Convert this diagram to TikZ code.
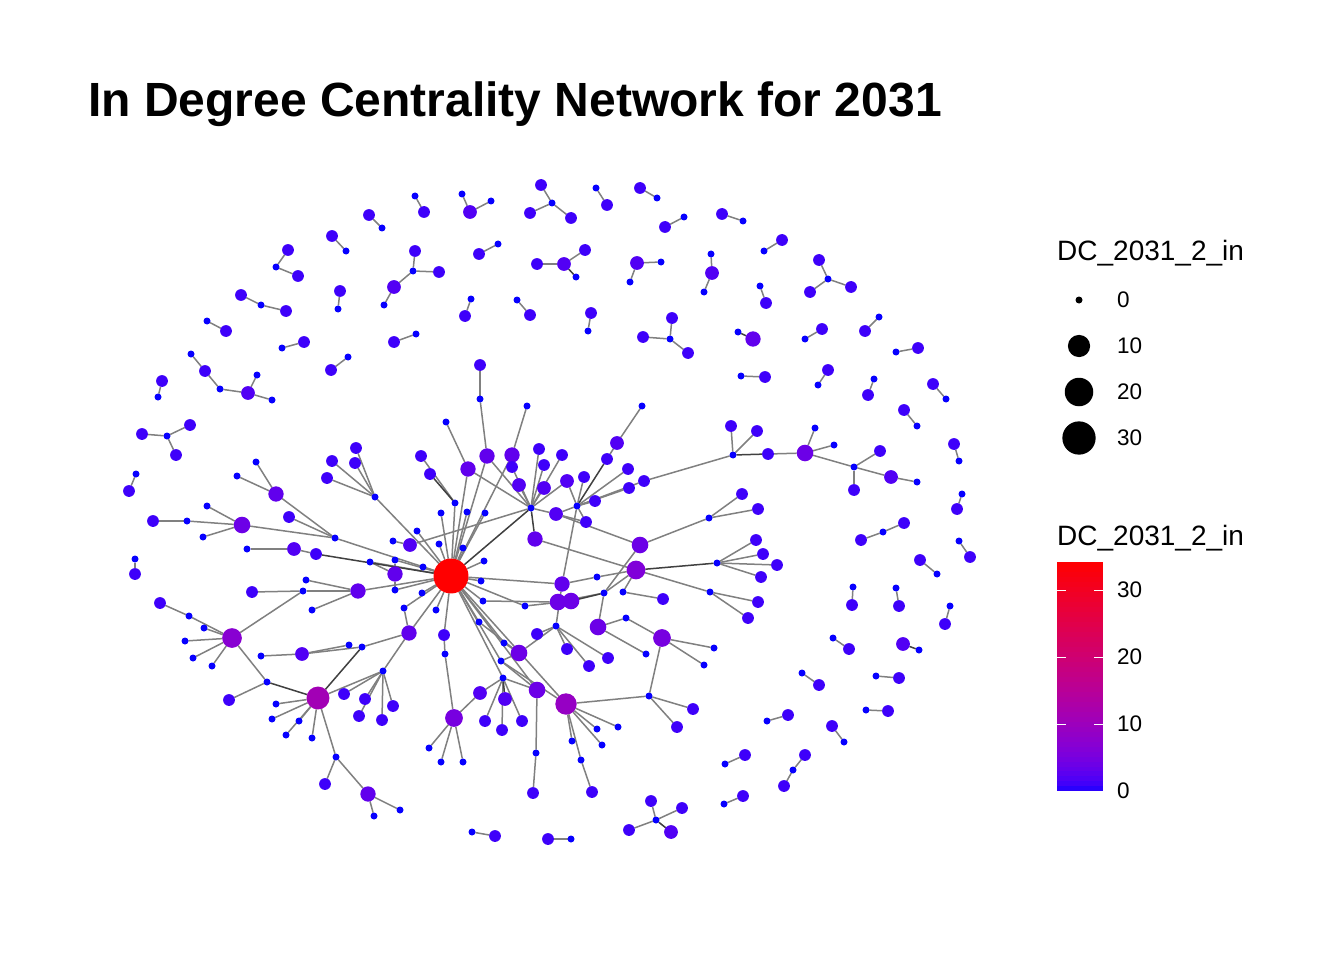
\documentclass[tikz,border=0pt]{standalone}
\usepackage{fontspec}
\setmainfont{Liberation Sans}
\usetikzlibrary{backgrounds}
\tikzset{
  vert/.style={circle, inner sep=0pt, outer sep=0pt, draw=none},
  edge/.style={gray, line width=1.5pt},
  dedge/.style={black!75, line width=1.5pt},
  legtitle/.style={font=\fontsize{28}{32}\selectfont, inner sep=0pt},
  leglabel/.style={font=\fontsize{22.5}{26}\selectfont, inner sep=0pt, anchor=west},
}
\newcommand\netnode[4]{%
  \pgfmathsetmacro\ndiam{2*(3.5+2.4*sqrt(#4))}%
  \pgfmathsetmacro\nR{min(1,(#4/34+0.0001)^0.4)}%
  \pgfmathsetmacro\nB{max(0,1-(#4/34+0.0001)^1.1)}%
  \definecolor{ndcol}{rgb}{\nR,0,\nB}%
  \node[vert, fill=ndcol, minimum size=\ndiam pt] (#1) at (#2,#3) {};}

\begin{document}
\begin{tikzpicture}[x=1pt, y=-1pt]
\useasboundingbox (0,0) rectangle (1344,960);

\foreach \n/\px/\py/\dg in {
  hub/451/576/34, hB/531/508/0, hC/577/506/0,
  u1/256/462/0, u2/237/476/0, uU/276/494/3,
  v1/356/448/1, v2/332/461/1, v3/355/463/1, v4/327/478/1, vV/375/497/0,
  w1/153/521/1, w2/187/521/0, wW/242/525/4, w3/207/506/0, w4/203/537/0,
  x1/289/517/1, dA/335/538/0, y0/247/549/0, y1/294/549/2, z1/316/554/1,
  k1/393/541/0, k2/410/545/2, k3/370/562/0, k4/395/560/0, k5/395/574/3, k6/395/590/0,
  k7/404/608/0, k8/358/591/3, k9/306/580/0, k10/303/591/0, k11/312/610/0, k12/252/592/1,
  h1/441/513/0, h2/455/503/0, h3/467/512/0, h4/485/513/0, h5/417/531/0, h6/439/544/0,
  h7/463/548/0, h8/484/561/0, h9/423/567/0, h10/481/581/0, h11/422/593/0, h12/436/610/0,
  h13/483/601/0, h14/525/606/0,
  t1/421/456/1, t2/430/474/1, t3/446/422/0, t4/468/469/3, t5/487/456/3, t6/512/455/3,
  t7/527/406/0, t8/512/467/1, t9/539/449/1, t10/562/455/1, t11/544/465/1, t12/519/485/2,
  t13/544/488/2, t14/567/481/2, t15/584/477/1, t16/642/406/0, t17/617/443/2, t18/607/459/1,
  t19/628/469/1, t20/629/488/1, t21/644/481/1, t22/595/501/1, t23/556/514/2, t24/586/522/1,
  t25/535/539/3, t26/480/365/1, t27/480/399/0,
  s1/640/545/4, s2/636/570/6, s3/663/599/1, s4/562/584/3, s5/558/602/4, s6/571/601/4,
  s7/597/577/0, s8/604/593/0, s9/623/592/0, s10/626/618/0, s11/598/627/4, s12/646/654/0,
  s13/662/638/5, s14/714/648/0, s15/704/665/0, s16/649/696/0, s17/693/709/1, s18/677/727/1,
  f1/709/518/0, f2/742/494/1, f3/758/509/1, f4/717/563/0, f5/756/540/1, f6/763/554/1,
  f7/777/565/1, f8/761/577/1, f9/710/592/0, f10/758/602/1, f11/748/618/1,
  e1/733/455/0, e2/731/426/1, e3/757/431/1, e4/768/454/1, e5/805/453/4, e6/815/428/0,
  e7/834/445/0, e8/854/467/0, e9/880/451/1, e10/854/490/1, e11/891/477/2, e12/917/482/0,
  b1/479/622/0, b2/504/643/0, b3/519/653/4, b4/537/634/1, b5/556/626/0, b6/567/649/1,
  b7/608/658/1, b8/589/666/1, b9/501/661/0, b10/503/678/0, b11/480/693/2, b12/505/699/2,
  b13/485/721/1, b14/502/730/1, b15/522/721/1, b16/537/690/4, b17/566/704/9, b18/597/729/0,
  b19/618/727/0, b20/572/741/0, b21/602/745/0, b22/581/760/0, b23/592/792/1, b24/536/753/0,
  b25/533/793/1,
  l1/409/633/3, l2/444/635/1, l3/445/654/0, l4/454/718/5, l5/429/748/0, l6/441/762/0, l7/463/762/0,
  g1/232/638/7, g2/189/616/0, g3/204/628/0, g4/185/641/0, g5/193/658/0, g6/212/666/0,
  g7/160/603/1, g8/267/682/0, g9/229/700/1, g10/318/698/11, g11/276/704/0, g12/272/719/0,
  g13/299/721/0, g14/286/735/0, g15/312/738/0, g16/302/654/2, g17/261/656/0, g18/349/645/0,
  g19/362/647/0, g20/383/671/0, g21/344/694/1, g22/365/699/1, g23/359/716/1, g24/382/720/1,
  g25/393/706/1, g26/336/757/0, g27/325/784/1, g28/368/794/3, g29/374/816/0, g30/400/810/0}
  \netnode{\n}{\px}{\py}{\dg};

\foreach \n/\px/\py/\dg in {
  r1a/369/215/1, r1b/382/228/0, r2a/332/236/1, r2b/346/251/0,
  r3a/288/250/1, r3b/276/267/0, r3c/298/276/1, r4a/241/295/1, r4b/261/305/0, r4c/286/311/1,
  r5a/226/331/1, r5b/207/321/0, r6a/304/342/1, r6b/282/348/0, r7a/340/291/1, r7b/338/309/0,
  r8a/394/287/2, r8b/384/305/0, r8c/413/271/0, r8d/415/251/1, r8e/439/272/1,
  r9a/394/342/1, r9b/416/334/0, r10a/331/370/1, r10b/348/357/0,
  r11a/205/371/1, r11b/191/354/0, r11c/220/389/0, r11d/248/393/2, r11e/257/375/0, r11f/272/400/0,
  r12a/162/381/1, r12b/158/397/0, r13a/424/212/1, r13b/415/196/0,
  r14a/470/212/2, r14b/462/194/0, r14c/491/201/0,
  r15a/541/185/1, r15b/552/203/0, r15c/530/213/1, r15d/571/218/1,
  r16a/607/205/1, r16b/596/188/0, r17a/640/188/1, r17b/657/198/0, r18a/665/227/1, r18b/684/217/0,
  r19a/479/254/1, r19b/498/244/0,
  r20a/564/264/2, r20b/576/277/0, r20c/537/264/1, r20d/585/250/1,
  r21a/637/263/2, r21b/661/262/0, r21c/630/282/0,
  r22a/465/316/1, r22b/471/299/0, r23a/530/315/1, r23b/517/300/0, r24a/591/313/1, r24b/588/331/0,
  r25a/672/318/1, r25b/670/339/0, r25c/643/337/1, r25d/688/353/1,
  r26a/722/214/1, r26b/743/221/0, r27a/782/240/1, r27b/764/251/0,
  r28a/712/273/2, r28b/711/254/0, r28c/704/292/0,
  r29a/819/260/1, r29b/828/279/0, r29c/810/292/1, r29d/851/287/1,
  r30a/766/303/1, r30b/760/286/0, r31a/753/339/3, r31b/738/332/0,
  r32a/822/329/1, r32b/805/339/0, r33a/865/331/1, r33b/879/317/0,
  r34a/918/348/1, r34b/896/352/0, r35a/765/377/1, r35b/741/376/0,
  r36a/828/370/1, r36b/818/385/0, r37a/868/395/1, r37b/874/379/0,
  r38a/933/384/1, r38b/946/399/0,
  r39a/142/434/1, r39b/167/436/0, r39c/190/425/1, r39d/176/455/1,
  r40a/129/491/1, r40b/136/474/0, r41a/904/410/1, r41b/917/426/0,
  r42a/954/444/1, r42b/959/461/0, r43a/957/509/1, r43b/962/494/0,
  r44a/904/523/1, r44b/883/532/0, r44c/861/540/1,
  r45a/970/557/1, r45b/959/541/0, r46a/920/560/1, r46b/937/574/0,
  r47a/852/605/1, r47b/853/587/0, r48a/899/606/1, r48b/896/588/0,
  r49a/945/624/1, r49b/950/606/0, r50a/849/649/1, r50b/833/638/0,
  r51a/903/644/2, r51b/919/650/0, r52a/819/685/1, r52b/802/673/0,
  r53a/899/678/1, r53b/876/676/0, r54a/788/715/1, r54b/767/721/0,
  r55a/888/711/1, r55b/866/710/0, r56a/832/726/1, r56b/844/742/0,
  r57a/745/755/1, r57b/725/764/0, r58a/805/755/1, r58b/793/770/0, r58c/784/786/1,
  r59a/743/796/1, r59b/724/804/0,
  r60a/651/801/1, r60b/656/820/0, r60c/682/808/1, r60d/629/830/1, r60e/671/832/2,
  r61a/495/836/1, r61b/472/832/0, r62a/548/839/1, r62b/571/839/0,
  r63a/135/574/1, r63b/135/559/0}
  \netnode{\n}{\px}{\py}{\dg};

\begin{pgfonlayer}{background}
\fill[white] (0,0) rectangle (1344,960);
\foreach \a/\b in {
  u1/uU, u2/uU, dA/uU, w1/w2, w2/wW, w3/wW, w4/wW, dA/wW, dA/x1, dA/hub,
  v1/vV, v2/vV, v3/vV, v4/vV, vV/hub, y0/y1, y1/z1,
  k1/k2, hB/k2, k3/k5, k4/k5, k6/k5, k3/hub, k4/hub, k6/hub, k7/hub, k7/l1,
  k9/k8, k10/k8, k11/k8, k8/hub, k10/k12, k10/g1,
  h1/hub, h2/hub, h3/hub, h4/hub, h5/hub, h6/hub, h7/hub, h8/hub, h9/hub, h10/hub,
  h11/hub, h12/hub, h13/hub, h14/hub, h13/s5, h14/s6,
  t1/h2, t3/t4, t4/hub, t27/t26, t27/t5, t5/hub, t7/t6, t6/hub,
  hB/t8, hB/t9, hB/t10, hB/t11, hB/t12, hB/t13, hB/t14, hB/t23, hB/t4, hB/t5,
  t23/t24, hC/t15, t16/t17, t17/t18, hC/t19, hC/t20, hC/t21, hC/t22, hC/t24, hC/t23, hC/s4, hC/t14,
  e1/t21, e1/e2, e1/e3, e4/e5, e6/e5, e7/e5, e8/e5, e8/e9, e8/e10, e8/e11, e12/e11,
  f1/f2, f1/f3, f1/s1, f4/f5, f4/f6, f4/f7, f4/f8, f9/f10, f9/f11, f9/s2,
  t23/s1, t25/s2, s7/s2, s7/s4, s8/s2, s9/s2, s9/s3, s8/s5, s8/s1, hub/s4, s8/s11,
  s10/s11, s10/s13, s12/s11, s14/s13, s15/s13, s16/s13, s16/s17, s16/s18, s16/b17,
  b1/b3, b2/b3, b5/b3, b9/b3, b1/hub, b2/hub, b5/b4, b5/b6, b5/b7, b5/b8, b5/s4,
  b9/hub, b9/b16, b9/b17, b10/b11, b10/b13, b10/b14, b10/b15, b10/b16, b10/hub,
  b18/b17, b19/b17, b20/b17, b21/b17, b22/b17, b22/b23, b24/b16, b24/b25, hub/b16, hub/b17,
  l3/l2, l3/l4, l2/hub, l1/hub, l5/l4, l6/l4, l7/l4, l4/b11, g20/l1, g19/l1,
  g2/g1, g3/g1, g4/g1, g5/g1, g6/g1, g2/g7, g8/g1, g8/g9,
  g11/g10, g12/g10, g13/g10, g14/g10, g15/g10, g26/g10, g20/g10,
  g17/g16, g18/g16, g19/g16, g20/g21, g20/g22, g20/g23, g20/g24, g20/g25,
  g26/g27, g26/g28, g29/g28, g30/g28,
  r1b/r1a, r2b/r2a, r3b/r3a, r3b/r3c, r4b/r4a, r4b/r4c, r5b/r5a, r6b/r6a, r7b/r7a,
  r8b/r8a, r8c/r8a, r8c/r8d, r8c/r8e, r9b/r9a, r10b/r10a,
  r11b/r11a, r11c/r11a, r11c/r11d, r11e/r11d, r11f/r11d, r12b/r12a, r13b/r13a,
  r14b/r14a, r14c/r14a, r15b/r15a, r15b/r15c, r15b/r15d, r16b/r16a, r17b/r17a, r18b/r18a,
  r19b/r19a, r20c/r20a, r20a/r20d, r21b/r21a, r21c/r21a, r22b/r22a, r23b/r23a, r24b/r24a,
  r25b/r25a, r25b/r25c, r25b/r25d, r26b/r26a, r27b/r27a, r28b/r28a, r28c/r28a,
  r29b/r29a, r29b/r29c, r29b/r29d, r30b/r30a, r32b/r32a, r33b/r33a, r34b/r34a,
  r35b/r35a, r36b/r36a, r37b/r37a, r38b/r38a, r39b/r39a, r39b/r39c, r39b/r39d,
  r40b/r40a, r41b/r41a, r42b/r42a, r43b/r43a, r44b/r44a, r44b/r44c, r45b/r45a,
  r46b/r46a, r47b/r47a, r48b/r48a, r49b/r49a, r50b/r50a, r52b/r52a, r53b/r53a,
  r54b/r54a, r55b/r55a, r56b/r56a, r57b/r57a, r58b/r58a, r58b/r58c, r59b/r59a,
  r60b/r60a, r60b/r60c, r60b/r60d, r61b/r61a, r62b/r62a, r63b/r63a}
  \draw[edge] (\a) -- (\b);
\foreach \a/\b in {t2/h2, z1/hub, hB/hub, hB/t25, hC/t18, e1/e4, f4/s2, s8/s6,
  b10/b12, g8/g10, g19/g10, r20b/r20a, r31b/r31a, r51b/r51a, r60b/r60e}
  \draw[dedge] (\a) -- (\b);
\end{pgfonlayer}

\node[anchor=base west, inner sep=0pt, font=\fontsize{48}{56}\selectfont\bfseries] (title) at (88,117) {In Degree Centrality Network for 2031};

\node[legtitle, anchor=base west] (sizetitle) at (1057,260) {DC\_2031\_2\_in};
\foreach \v/\py/\sz in {0/300/7, 10/346/22.2, 20/392/28.5, 30/438/33.3}{
  \node[vert, fill=black, minimum size=\sz pt] (size\v) at (1079,\py) {};
  \node[leglabel] (sizelab\v) at (1117,\py) {\v};
}

\node[legtitle, anchor=base west] (coltitle) at (1057,545) {DC\_2031\_2\_in};
\foreach \i in {0,...,45}{
  \pgfmathsetmacro\cbt{(\i+0.5)/46}
  \pgfmathsetmacro\cbR{min(1,\cbt^0.4)}
  \pgfmathsetmacro\cbB{max(0,1-\cbt^1.1)}
  \definecolor{cbcol}{rgb}{\cbR,0,\cbB}
  \fill[cbcol] (1057,{791-\i*229/46+0.4}) rectangle (1103,{791-(\i+1)*229/46-0.4});
}
\foreach \v in {10,20,30}{
  \draw[white, line width=1pt] (1057,{791-\v*6.7}) -- ++(9,0);
  \draw[white, line width=1pt] (1103,{791-\v*6.7}) -- ++(-9,0);
}
\foreach \v in {0,10,20,30}
  \node[leglabel] (collab\v) at (1117,{791-\v*6.7}) {\v};
\end{tikzpicture}
\end{document}
